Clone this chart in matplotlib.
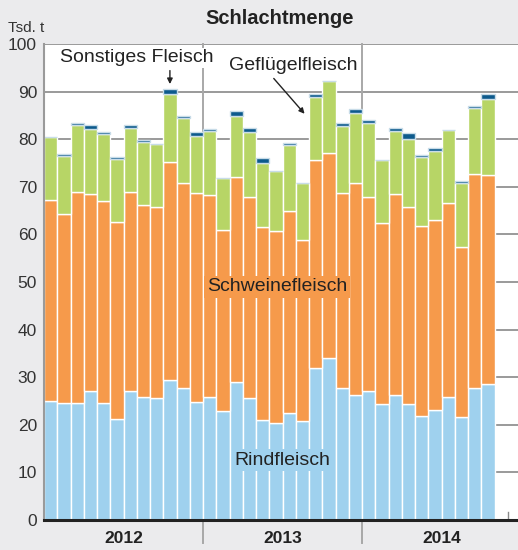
import matplotlib
matplotlib.use("Agg")
import matplotlib.pyplot as plt
import numpy as np

# monthly slaughter volumes (1000 t), Jan 2012 - Oct 2014
rind = [25.1, 24.6, 24.5, 27.2, 24.6, 21.2, 27.2, 25.9, 25.6, 29.4, 27.7, 24.8,
        25.8, 22.8, 29.1, 25.6, 21.0, 20.3, 22.4, 20.7, 31.9, 34.0, 27.7, 26.3,
        27.2, 24.4, 26.2, 24.3, 21.9, 23.1, 25.8, 21.6, 27.7, 28.6]
schwein = [42.1, 39.6, 44.5, 41.2, 42.4, 41.5, 41.8, 40.3, 40.2, 45.9, 43.2, 43.8,
           42.5, 38.1, 42.9, 42.2, 40.5, 40.4, 42.5, 38.1, 43.7, 43.2, 40.9, 44.4,
           40.6, 38.1, 42.2, 41.5, 39.9, 39.9, 40.7, 35.8, 44.9, 43.8]
gefluegel = [13.3, 12.3, 14.0, 13.7, 14.0, 13.2, 13.4, 13.3, 13.1, 14.3, 13.5, 12.0,
             13.5, 11.0, 12.9, 13.8, 13.6, 12.6, 13.8, 12.1, 13.3, 15.1, 14.1, 14.7,
             15.7, 13.1, 13.4, 14.3, 14.4, 14.6, 15.4, 13.3, 13.9, 16.0]
sonstiges = [0.0, 0.4, 0.5, 0.9, 0.5, 0.4, 0.5, 0.4, 0.0, 1.0, 0.4, 0.9,
             0.4, 0.0, 1.1, 0.8, 0.9, 0.0, 0.5, 0.0, 0.6, 0.0, 0.6, 0.9,
             0.5, 0.0, 0.5, 1.1, 0.5, 0.5, 0.0, 0.5, 0.5, 1.1]
jahre = ["2012", "2013", "2014"]

c_rind = "#9fd1ee"
c_schwein = "#f69a4b"
c_gefl = "#b7d566"
c_sonst = "#0d5a8c"
bg = "#ebebed"

plt.rcParams["font.family"] = ["Liberation Sans", "DejaVu Sans"]

fig = plt.figure(figsize=(5.18, 5.5), dpi=100, facecolor=bg)
ax = fig.add_axes([0.085, 0.0545, 0.915, 0.8655])
ax.set_facecolor("white")

x = np.arange(len(rind))
r = np.array(rind)
s = np.array(schwein)
g = np.array(gefluegel)
o = np.array(sonstiges)

kw = dict(width=1.0, edgecolor="white", linewidth=1.0, zorder=2)
ax.bar(x, r, color=c_rind, **kw)
ax.bar(x, s, bottom=r, color=c_schwein, **kw)
ax.bar(x, g, bottom=r + s, color=c_gefl, **kw)
ax.bar(x, o, bottom=r + s + g, color=c_sonst, width=1.0,
       edgecolor="#c8dce8", linewidth=1.0, zorder=2)

ax.set_xlim(-0.5, 35.27)
ax.set_ylim(0, 100)
ax.set_yticks(range(0, 101, 10))
ax.yaxis.grid(True, color="#9a9a9a", linewidth=1.4, zorder=0)
ax.set_axisbelow(True)
ax.tick_params(axis="y", length=0, labelsize=12.5, labelcolor="#333333", pad=5)
ax.set_xticks([])

for sp in ["top", "right"]:
    ax.spines[sp].set_visible(False)
ax.spines["left"].set_color("#9a9a9a")
ax.spines["left"].set_linewidth(1.5)
ax.spines["bottom"].set_color("#222222")
ax.spines["bottom"].set_linewidth(2.2)

# year separators reaching below the axis
for xb in [11.5, 23.5]:
    ax.plot([xb, xb], [-0.048, 1.0], color="#a8a8a8", linewidth=1.4,
            transform=ax.get_xaxis_transform(), clip_on=False, zorder=1)
ax.plot([34.5, 34.5], [0, 1.7], color="#8a8a8a", linewidth=1.0, zorder=1)

for i, j in enumerate(jahre):
    ax.text(5.5 + 12 * i, -0.038, j, transform=ax.get_xaxis_transform(),
            ha="center", va="center", fontsize=12.5, fontweight="bold",
            color="#222222")

# series labels
ax.text(17.1, 49.0, "Schweinefleisch", ha="center", va="center", fontsize=14,
        color="#222222", zorder=5,
        bbox=dict(facecolor=c_schwein, edgecolor="none", pad=2))
ax.text(17.5, 12.6, "Rindfleisch", ha="center", va="center", fontsize=14,
        color="#222222", zorder=5,
        bbox=dict(facecolor=c_rind, edgecolor="none", pad=2))
ax.text(6.5, 97.1, "Sonstiges Fleisch", ha="center", va="center", fontsize=14,
        color="#222222", zorder=5,
        bbox=dict(facecolor="white", edgecolor="none", pad=1))
ax.annotate("", xy=(9.0, 91.0), xytext=(9.0, 95.0),
            arrowprops=dict(arrowstyle="-|>", color="#222222", lw=1.0,
                            mutation_scale=8), zorder=5)
ax.text(18.3, 95.4, "Geflügelfleisch", ha="center", va="center", fontsize=14,
        color="#222222", zorder=5,
        bbox=dict(facecolor="white", edgecolor="none", pad=1))
ax.annotate("", xy=(19.3, 84.9), xytext=(16.7, 93.2),
            arrowprops=dict(arrowstyle="-|>", color="#222222", lw=1.0,
                            mutation_scale=8), zorder=5)

fig.text(0.54, 0.967, "Schlachtmenge", ha="center", va="center",
         fontsize=14.5, fontweight="bold", color="#222222")
fig.text(0.015, 0.949, "Tsd. t", ha="left", va="center", fontsize=11,
         color="#333333")

fig.savefig("out.png", dpi=100, facecolor=bg)
